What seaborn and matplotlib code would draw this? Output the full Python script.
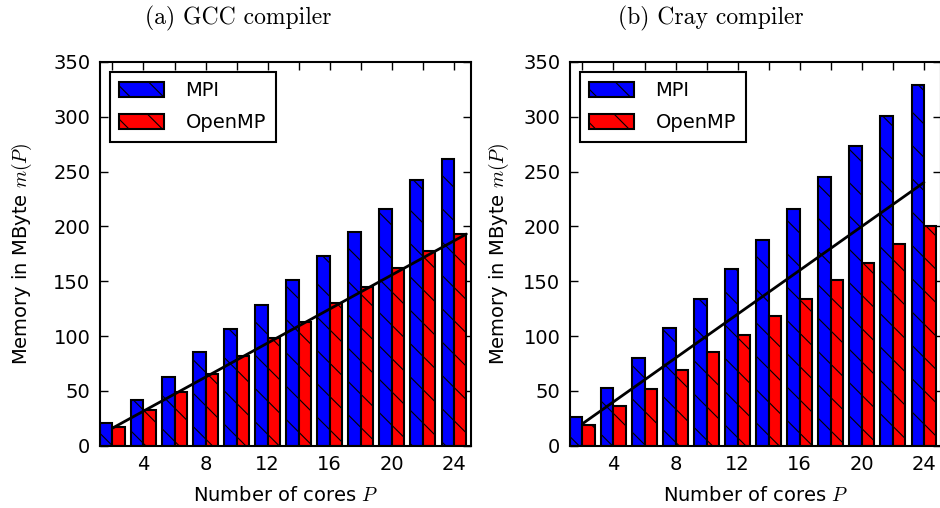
import numpy as np
import pandas as pd
import matplotlib
matplotlib.use("Agg")
import matplotlib.pyplot as plt
import seaborn as sns
from matplotlib.patches import Patch

# ---- data ----
cores = [2, 4, 6, 8, 10, 12, 14, 16, 18, 20, 22, 24]
gcc_mpi = [21, 42, 63, 85, 106, 128, 151, 173, 195, 216, 242, 261]
gcc_openmp = [17, 33, 49, 65, 82, 98, 113, 130, 145, 162, 178, 193]
cray_mpi = [26, 53, 80, 107, 134, 161, 188, 216, 245, 273, 301, 329]
cray_openmp = [19, 36, 52, 69, 85, 101, 118, 134, 151, 167, 184, 200]
gcc_ideal_x = [2, 24.8]
gcc_ideal_y = [16, 193]
cray_ideal_x = [2, 24]
cray_ideal_y = [20, 240]
titles = ["(a) GCC compiler", "(b) Cray compiler"]
series_names = ["MPI", "OpenMP"]
colors = {"MPI": "#0000ff", "OpenMP": "#ff0000"}

sns.set_style("ticks")
plt.rcParams["mathtext.fontset"] = "cm"
plt.rcParams["font.family"] = ["DejaVu Sans"]
plt.rcParams["hatch.linewidth"] = 0.8
for k in ["text.color", "axes.labelcolor", "xtick.color", "ytick.color",
          "xtick.labelcolor", "ytick.labelcolor"]:
    plt.rcParams[k] = "black"

fig = plt.figure(figsize=(9.4, 5.08), dpi=100)
W, H = 940.0, 508.0
ax_w = 371 / W
ax_h = (445.7 - 61.9) / H
bottom = 1 - 445.7 / H
axes = [fig.add_axes([100 / W, bottom, ax_w, ax_h]),
        fig.add_axes([570 / W, bottom, ax_w, ax_h])]

datasets = [(gcc_mpi, gcc_openmp, gcc_ideal_x, gcc_ideal_y),
            (cray_mpi, cray_openmp, cray_ideal_x, cray_ideal_y)]

for i, (ax, (mpi, omp, ix, iy)) in enumerate(zip(axes, datasets)):
    df = pd.DataFrame({
        "P": cores + cores,
        "mem": mpi + omp,
        "impl": ["MPI"] * len(cores) + ["OpenMP"] * len(cores),
    })
    sns.barplot(data=df, x="P", y="mem", hue="impl", hue_order=series_names,
                native_scale=True, palette=colors, saturation=1,
                edgecolor="black", linewidth=1.5, errorbar=None,
                width=0.8, ax=ax, legend=False, zorder=2)
    for p in ax.patches:
        p.set_hatch("\\")
    sns.lineplot(x=ix, y=iy, color="black", linewidth=2, ax=ax, zorder=3)

    ax.set_xlim(1.2, 25.1)
    ax.set_ylim(0, 350)
    ax.set_xticks(cores)
    ax.set_xticklabels([str(c) if c % 4 == 0 else "" for c in cores])
    ax.set_yticks(range(0, 351, 50))
    ax.tick_params(direction="in", top=True, right=True, length=6, width=1,
                   labelsize=14, pad=7, colors="black")
    for s in ax.spines.values():
        s.set_visible(True)
        s.set_linewidth(1.5)
        s.set_color("black")
    ax.set_xlabel("Number of cores $P$", fontsize=14)
    ax.set_ylabel("Memory in MByte $m(P)$", fontsize=14)
    ax.xaxis.set_label_coords(0.5, -0.105)
    ax.yaxis.set_label_coords(-0.178 if i == 0 else -0.16, 0.5)

    handles = [Patch(facecolor=colors[n], edgecolor="black", hatch="\\",
                     linewidth=1.5, label=n) for n in series_names]
    leg = ax.legend(handles=handles, loc="upper left", fontsize=14,
                    frameon=True, fancybox=False, handlelength=2.3,
                    handleheight=0.8, labelspacing=0.65, borderpad=0.5,
                    handletextpad=1.1, borderaxespad=0.5)
    leg.get_frame().set_edgecolor("black")
    leg.get_frame().set_linewidth(1.5)
    leg.get_frame().set_alpha(1)

fig.text(238 / W, 1 - 18 / H, titles[0], family="cmr10", fontsize=17,
         ha="center", va="center")
fig.text(711 / W, 1 - 18 / H, titles[1], family="cmr10", fontsize=17,
         ha="center", va="center")

fig.savefig("out.png", dpi=100)
